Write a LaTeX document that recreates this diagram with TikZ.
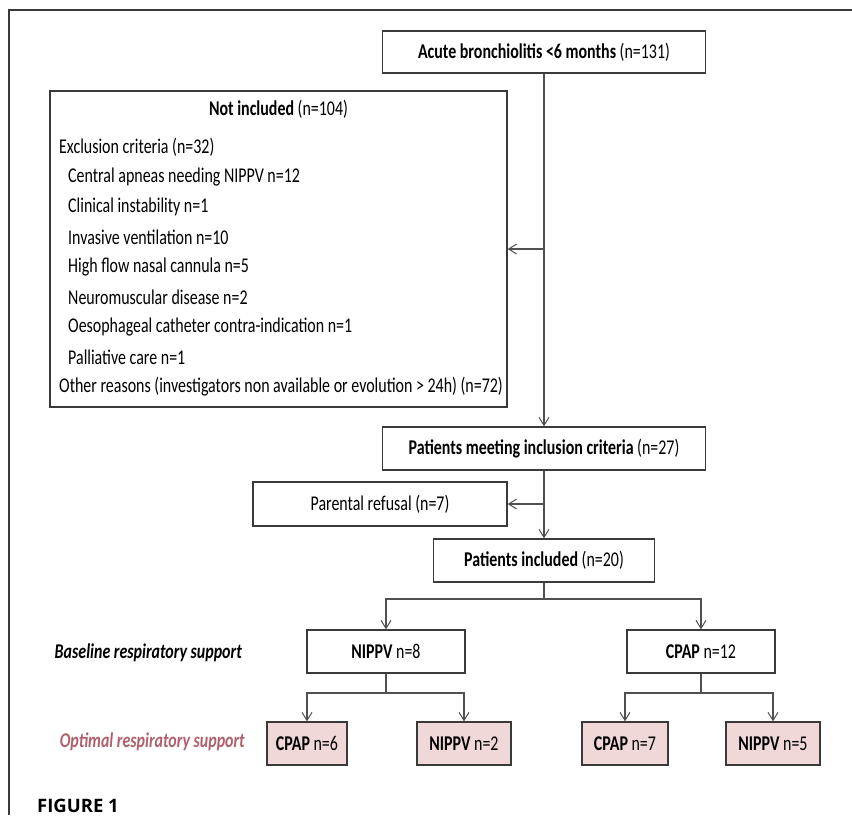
\documentclass[tikz,border=0pt]{standalone}
\usepackage{fontspec}
\setmainfont{Carlito}[FakeStretch=0.76]
\newfontfamily\figfont{Open Sans}
\usetikzlibrary{arrows.meta}
\definecolor{linec}{HTML}{3A3A3A}
\definecolor{conc}{HTML}{505050}
\definecolor{pinkfill}{HTML}{F0D8D8}
\definecolor{optc}{HTML}{B0606C}
\newcommand\mfs{\fontsize{21}{25}\selectfont}
\begin{document}
\begin{tikzpicture}[x=1pt,y=-1pt,
  box/.style={draw=linec,line width=1.4pt,fill=white,inner sep=0pt,font=\mfs,minimum height=43pt},
  pbox/.style={box,fill=pinkfill},
  txt/.style={inner sep=0pt,font=\mfs,anchor=west},
  con/.style={draw=conc,line width=1.1pt},
  arr/.style={con,-{Straight Barb[length=8pt,width=10pt,line width=1pt]}}]
\useasboundingbox (0,0) rectangle (852,815);
\fill[white] (0,0) rectangle (852,815);
% frame
\coordinate (fo) at (9,10);
\coordinate (fr) at (852,10);
\coordinate (fb) at (9,815);
\draw[draw=linec,line width=1.6pt] (fr) -- (fo) -- (fb);

% boxes
\node[box,minimum width=323pt,minimum height=42pt] (top) at (544,52) {\textbf{Acute bronchiolitis <6 months} (n=131)};
\node[box,minimum width=457pt,minimum height=316pt] (excl) at (278.5,249) {};
\node[box,minimum width=323pt] (meet) at (544,448.5) {\textbf{Patients meeting inclusion criteria} (n=27)};
\node[box,minimum width=254pt,minimum height=44pt] (refuse) at (380,504) {Parental refusal (n=7)};
\node[box,minimum width=221pt] (incl) at (544,560.5) {\textbf{Patients included} (n=20)};
\node[box,minimum width=158pt] (nippv8) at (386,651.5) {\textbf{NIPPV} n=8};
\node[box,minimum width=148pt] (cpap12) at (701,651.5) {\textbf{CPAP} n=12};
\node[pbox,minimum width=80pt] (cpap6) at (307,743.5) {\textbf{CPAP} n=6};
\node[pbox,minimum width=94pt] (nippv2) at (464,743.5) {\textbf{NIPPV} n=2};
\node[pbox,minimum width=86pt] (cpap7) at (625,743.5) {\textbf{CPAP} n=7};
\node[pbox,minimum width=94pt] (nippv5) at (773,743.5) {\textbf{NIPPV} n=5};

% contents of the not-included box
\node[inner sep=0pt,font=\mfs] (exT) at (278.5,109) {\textbf{Not included} (n=104)};
\node[txt] (ex0) at (59,147) {Exclusion criteria (n=32)};
\node[txt] (ex1) at (68,177) {Central apneas needing NIPPV n=12};
\node[txt] (ex2) at (68,207) {Clinical instability n=1};
\node[txt] (ex3) at (68,237) {Invasive ventilation n=10};
\node[txt] (ex4) at (68,267) {High flow nasal cannula n=5};
\node[txt] (ex5) at (68,297) {Neuromuscular disease n=2};
\node[txt] (ex6) at (68,327) {Oesophageal catheter contra-indication n=1};
\node[txt] (ex7) at (68,357) {Palliative care n=1};
\node[txt] (ex8) at (59,387) {Other reasons (investigators non available or evolution > 24h) (n=72)};

% side labels
\node[inner sep=0pt,font=\mfs\bfseries\itshape,anchor=east] (base) at (242,653) {Baseline respiratory support};
\node[inner sep=0pt,font=\mfs\bfseries\itshape,text=optc,anchor=east] (opt) at (245,742) {Optimal respiratory support};
\node[inner sep=0pt,font=\figfont\fontsize{18.5}{20}\selectfont\bfseries,anchor=base west] (fig) at (37,812) {FIGURE 1};

% connectors
\draw[arr] (top.south) -- (meet.north);
\draw[arr] (top.south |- excl.east) -- (excl.east);
\draw[arr] (meet.south) -- (incl.north);
\draw[arr] (meet.south |- refuse.east) -- (refuse.east);
\coordinate (b1) at (544,599);
\draw[con] (incl.south) -- (b1);
\draw[arr] (b1) -| (nippv8.north);
\draw[arr] (b1) -| (cpap12.north);
\coordinate (b2) at (386,693);
\draw[con] (nippv8.south) -- (b2);
\draw[arr] (b2) -| (cpap6.north);
\draw[arr] (b2) -| (nippv2.north);
\coordinate (b3) at (701,693);
\draw[con] (cpap12.south) -- (b3);
\draw[arr] (b3) -| (cpap7.north);
\draw[arr] (b3) -| (nippv5.north);
\end{tikzpicture}
\end{document}
